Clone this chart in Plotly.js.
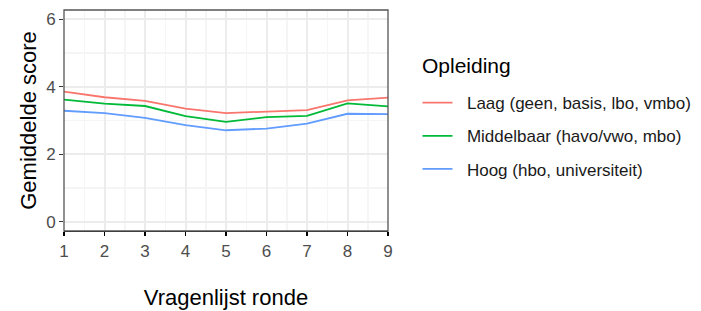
<!DOCTYPE html>
<html>
<head>
<meta charset="utf-8">
<script src="https://cdn.plot.ly/plotly-3.0.1.min.js"></script>
<style>html,body{margin:0;padding:0;background:#fff;}#chart{width:701px;height:311px;}</style>
</head>
<body>
<div id="chart"></div>
<script>
const rondes = [1, 2, 3, 4, 5, 6, 7, 8, 9];
const seriesNames = ["Laag (geen, basis, lbo, vmbo)", "Middelbaar (havo/vwo, mbo)", "Hoog (hbo, universiteit)"];
const laag = [3.86, 3.69, 3.58, 3.35, 3.22, 3.26, 3.31, 3.60, 3.68];
const middelbaar = [3.62, 3.50, 3.43, 3.13, 2.96, 3.10, 3.14, 3.51, 3.42];
const hoog = [3.29, 3.22, 3.08, 2.86, 2.71, 2.76, 2.91, 3.20, 3.19];
const colors = ["#F8766D", "#00BA38", "#619CFF"];
const values = [laag, middelbaar, hoog];
const legendTitle = "Opleiding";

const traces = values.map((v, i) => ({
  x: rondes, y: v, type: "scatter", mode: "lines",
  name: "\u00A0\u00A0" + seriesNames[i], legendgroup: "g" + i,
  line: {color: colors[i], width: 1.8}
}));

const minorX = rondes.slice(0, -1).map(r => r + 0.5);

const font = "Arial, 'Liberation Sans', sans-serif";
const layout = {
  width: 701, height: 311,
  margin: {l: 64, r: 313, t: 10, b: 80, autoexpand: false},
  paper_bgcolor: "#fff", plot_bgcolor: "#fff",
  font: {family: font, color: "#000"},
  showlegend: true,
  legend: {
    x: 1.091, xanchor: "left", y: 0.66, yanchor: "top",
    font: {size: 17, color: "#1a1a1a"},
    tracegroupgap: 8, traceorder: "grouped",
    itemwidth: 30
  },
  annotations: [{
    text: legendTitle, xref: "paper", yref: "paper", x: 1.099, y: 0.75,
    xanchor: "left", yanchor: "middle", showarrow: false,
    font: {size: 21, color: "#000"}
  }],
  xaxis: {
    range: [1, 9], tickvals: rondes, ticktext: rondes.map(String),
    showgrid: true, gridcolor: "#ececec", gridwidth: 2,
    minor: {tickvals: minorX, showgrid: true, gridcolor: "#f5f5f5", gridwidth: 1.5},
    zeroline: false, showline: true, linecolor: "#000", linewidth: 1.3,
    ticks: "outside", ticklen: 4, tickcolor: "#000", tickwidth: 1.2,
    tickfont: {size: 17, color: "#4d4d4d"},
    title: {text: "Vragenlijst ronde", font: {size: 22, color: "#000"}, standoff: 30}
  },
  yaxis: {
    range: [-0.28, 6.28], tickvals: [0, 2, 4, 6], ticktext: ["0", "2", "4", "6"],
    showgrid: true, gridcolor: "#ececec", gridwidth: 2,
    minor: {tickvals: [1, 3, 5], showgrid: true, gridcolor: "#f5f5f5", gridwidth: 1.5},
    zeroline: false, showline: false,
    ticks: "outside", ticklen: 4, tickcolor: "#333", tickwidth: 1.1,
    tickfont: {size: 17, color: "#4d4d4d"},
    title: {text: "Gemiddelde score", font: {size: 22, color: "#000"}, standoff: 3}
  },
  shapes: [{
    type: "rect", xref: "paper", yref: "paper", x0: 0, x1: 1, y0: 0, y1: 1,
    line: {color: "#555", width: 1.3}, layer: "above"
  }]
};

Plotly.newPlot("chart", traces, layout, {displayModeBar: false, staticPlot: true});
</script>
</body>
</html>
